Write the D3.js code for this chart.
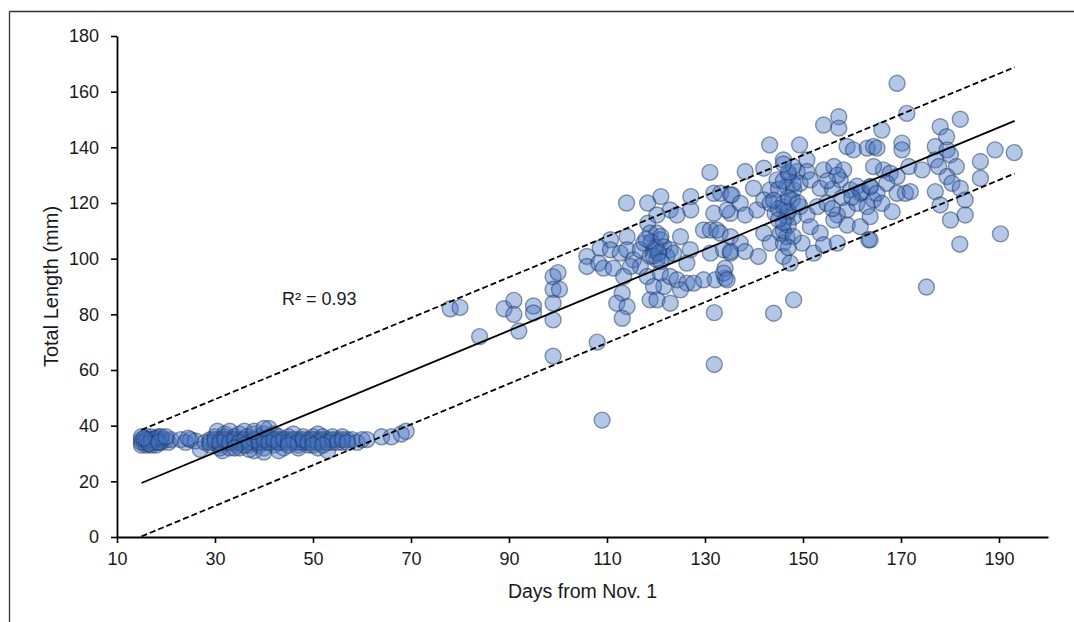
<!DOCTYPE html>
<html>
<head>
<meta charset="utf-8">
<script src="https://cdn.jsdelivr.net/npm/d3@7"></script>
<style>
  html, body { margin: 0; padding: 0; background: #fff; }
  svg { display: block; }
  text { font-family: "Liberation Sans", Arial, sans-serif; fill: #1a1a1a; }
</style>
</head>
<body>
<svg id="chart" width="1074" height="622"></svg>
<script>
// ---------- data ----------
const xTicks = [10, 30, 50, 70, 90, 110, 130, 150, 170, 190];
const yTicks = [0, 20, 40, 60, 80, 100, 120, 140, 160, 180];
const xLabel = "Days from Nov. 1";
const yLabel = "Total Length (mm)";
const r2Label = "R² = 0.93";

// early-winter fish [day, length]
const earlyFish = [
  [15,35],[15,33],[15.5,34],[16,36],[16,33],[16.5,35],[17,34],[17,36],[17.5,35],[18,33],
  [18,35],[18.5,36],[19,34],[19,35],[20,35],[20.5,34],[21,35],[16,34.5],[18,34],[15,36],
  [15,34],[16,35],[17,35],[17,33],[18,35.5],[19,36],[16.5,33.5],[18.5,34],[20,36],[15.5,35.5],
  [23,35],[24,34],[25,35],[26,34.5],[24.5,35.5],[27,31.5],
  [28,34],[29,35],[29,33],[30,36],[30,34],[30.5,38],[31,35],[31,33],[31.5,31],[32,37],
  [32,34],[32,36],[33,35],[33,32],[33,38],[34,34],[34,36],[34.5,33],[35,37],[35,35],
  [35,32],[36,38],[36,34],[36.5,36],[37,35],[37,33],[38,37],[38,34],[38,31],[39,36],
  [39,35],[39,33],[40,37],[40,34],[40,32],[41,39],[41,36],[41,35],[42,34],[42,37],
  [42,33],[43,36],[43,35],[44,34],[44,32],[45,36],[45,35],[46,34],[46,37],[47,35],
  [47,33],[48,36],[48,34],[49,35],[49,33],[50,36],[50,34],[51,35],[51,37],[51,32],
  [52,34],[52,36],[53,35],[53,31],[54,34],[54,36],[55,35],[56,36],[56,34],[57,35],
  [58,35],[59,34],[60,35],[61,35],[31,32],[37,31.5],[40,30.5],[43,31],[47,32],
  [29,34],[30,35],[31,34],[32,35],[33,34],[34,35],[35,34],[36,35],[37,34],[38,35],
  [39,34],[40,35],[41,34],[42,35],[43,34],[44,35],[45,34],[46,35],[47,34],[48,35],
  [49,34],[50,35],[51,34],[52,35],[53,34],[54,35],[55,34],[56,35],[57,34],[50,33],
  [52,33],[36,33],[34,32],[45,33],[38,38],[40,39],
  [64,36],[66,36],[68,37],[69,38]
];

// transition fish
const midFish = [
  [78,82],[80,82.5],[84,72],[89,82],[91,85],[91,80],[92,74],[95,83],[95,80.5],
  [99,93.5],[100,95],[99,89],[100.3,89],[99,84],[99,78],[99,65],[108,70],[109,42]
];

// spring cluster
const springFish = [
  [131,131],[114,120],[118.3,120],[121,122.3],[127.1,122.3],[122.9,117.5],[124.3,115.7],
  [127.1,117.5],[118.3,112.7],[120.2,115.7],[114.1,107.9],[110.7,106.8],[108.6,103.8],
  [105.9,100.8],[105.9,97.2],[108.3,98.4],[109.3,96.6],[111.3,96.6],[110.7,103.2],
  [112.7,102],[114.1,103.2],[115.4,99.6],[116.8,103.2],[117.5,105.6],[118.8,109.2],
  [120.2,109.2],[120.9,106.8],[121.6,104.3],[122.9,103.2],[119.5,103.2],[118.8,100.8],
  [120.2,99.6],[122.2,100.8],[123.6,102],[125,107.9],[127,103.2],[126.3,98.4],
  [116.8,97.2],[118.2,93.6],[120.9,94.8],[121.6,90],[122.9,93.6],[124.3,92.4],
  [126.3,91.2],[127.7,91.2],[125,88.8],[119.5,90],[118.8,85.2],[120.2,85.2],[122.9,84],
  [114.8,97.2],[113.4,93.6],[113.1,87.6],[112,84],[114.1,82.8],[113.1,78.6],
  [119,106],[120,104],[121,108],[119.5,101],[120.5,102],[118,107],[121,99],
  [129.7,110.3],[131.1,110.3],[132.4,110.3],[131.8,116.3],[135.2,116.3],[131.8,123.5],
  [133.2,123.5],[135.2,122.9],[131.1,102],[133.8,103.2],[135.2,102],[129.7,92.4],
  [132.1,92.4],[134.1,93],[134.1,96.6],[131.9,80.6],[131.9,62]
];

// late-spring cluster
const lateFish = [
  [154.2,148],[157.3,151],[157.3,146.9],[143.2,140.9],[149.3,140.9],[138.2,131.3],[142,132.5],
  [146,135.5],[150.8,135.5],[147.1,130.1],[148.8,131.3],[150.8,131.3],[154.2,131.9],
  [156.3,133.1],[158.3,131.9],[159,140.3],[160.3,139.1],[163.1,139.7],[164.4,140.3],
  [139.9,125.3],[143.3,124.7],[144.7,128.3],[146.7,125.9],[148.1,124.7],
  [149.4,127.1],[151.5,128.3],[153.5,125.3],[157.6,128.3],[159.7,124.7],[161.7,123.5],
  [163.8,125.9],[135.5,122.9],[134.5,117.5],[137.2,119.9],[138.2,115.7],[140.6,117.5],
  [142,121.1],[143.3,119.9],[144.3,116.3],[146,118.7],[146.7,115.1],[147.8,121.1],
  [149.4,118.7],[150.8,115.7],[152.9,118.7],[154.9,119.9],[157,115.7],[159,117.5],
  [161,119.9],[163.1,118.7],[164.4,121.1],[159,112.1],[161.7,111.5],[163.4,106.8],
  [133.1,109.2],[135.2,107.9],[137.2,105.6],[135.2,102.6],[138.2,102.6],[140.9,100.8],
  [142,109.2],[143.3,105.6],[145.4,109.2],[146,105.6],[146.7,107.9],[146,100.8],
  [147.4,98.4],[149.8,105.6],[151.5,111.5],[152.2,102],[153.5,109.2],[154.2,105],
  [157,105.6],[156.3,113.9],[133.8,94.8],[134.5,92.4],[144,80.4],[148.1,85.2],
  [146,120],[147,122],[145,118],[148,115],[147,112],[146,110],[148,127],[145,125],
  [147,117],[146,113],[148,108],[147,104],[145,114],[149,120],[144,121],[146,128],
  [147,131],[148,133],[146,134],[156,125],[157,130],[158,122],[156,118],[155,128],
  [161,126],[162,124],[160,122],
  [169.2,163],[171.2,152.2],[166.1,146.2],[182.1,150.1],[178,147.4],[179.3,143.8],
  [170.2,141.5],[170.2,139.1],[165.1,139.7],[177,140.3],[179.4,139.1],[180.1,137.3],
  [171.6,133.1],[174.3,131.9],[177,135.5],[177.7,133.1],[181.3,133.1],[186.2,134.9],
  [189.2,139.1],[193.1,138.1],[186.2,128.9],[166.4,131.9],[167.8,130.7],[169.2,129.5],
  [164.4,133.1],[163.7,125.9],[165.1,123.5],[167.1,127.1],[169.2,123.5],[170.9,123.5],
  [171.9,124.1],[166.1,119.9],[168.2,116.9],[163.7,115.1],[177,124.1],[178,119.3],
  [179.4,129.5],[180.4,127.1],[182.1,125.3],[183.1,121.1],[183.1,115.7],[180.1,113.9],
  [182,105.2],[190.3,108.9],[175.2,89.8],[163.7,106.8]
];

// regression line and prediction band (end points)
const fitDays  = [15, 193.2];
const fitLen   = [19.4, 149.5];
const upperLen = [38.5, 168.8];
const lowerLen = [0.2, 130.6];

// ---------- drawing ----------
const svg = d3.select("#chart");

// outer frame (left and top edges visible)
svg.append("line").attr("x1", 9.5).attr("y1", 11.5).attr("x2", 9.5).attr("y2", 622)
  .attr("stroke", "#333").attr("stroke-width", 1.3);
svg.append("line").attr("x1", 9.5).attr("y1", 11.5).attr("x2", 1074).attr("y2", 11.5)
  .attr("stroke", "#333").attr("stroke-width", 1.3);

const x = d3.scaleLinear().domain([10, 200]).range([117, 1048]);
const y = d3.scaleLinear().domain([0, 180]).range([537, 36]);

const allFish = [].concat(earlyFish, midFish, springFish, lateFish);

// points
svg.append("g").selectAll("circle").data(allFish).join("circle")
  .attr("cx", d => x(d[0]))
  .attr("cy", d => y(d[1]))
  .attr("r", 8)
  .attr("fill", "#4472C4").attr("fill-opacity", 0.4)
  .attr("stroke", "#1F3864").attr("stroke-opacity", 0.5).attr("stroke-width", 1.4);

// lines
const lineGen = d3.line().x(d => x(d[0])).y(d => y(d[1]));
const mk = arr => fitDays.map((dd, i) => [dd, arr[i]]);
svg.append("path").attr("d", lineGen(mk(fitLen)))
  .attr("fill", "none").attr("stroke", "#000").attr("stroke-width", 1.8);
svg.append("path").attr("d", lineGen(mk(upperLen)))
  .attr("fill", "none").attr("stroke", "#000").attr("stroke-width", 1.8).attr("stroke-dasharray", "6,3");
svg.append("path").attr("d", lineGen(mk(lowerLen)))
  .attr("fill", "none").attr("stroke", "#000").attr("stroke-width", 1.8).attr("stroke-dasharray", "6,3");

// axes
const xAxis = svg.append("g").attr("transform", `translate(0,${y(0)})`)
  .call(d3.axisBottom(x).tickValues(xTicks).tickSize(6).tickSizeOuter(0).tickPadding(9).tickFormat(d3.format("d")));
const yAxis = svg.append("g").attr("transform", `translate(${x(10)},0)`)
  .call(d3.axisLeft(y).tickValues(yTicks).tickSize(6).tickSizeOuter(0).tickPadding(12).tickFormat(d3.format("d")));
[xAxis, yAxis].forEach(a => {
  a.select(".domain").attr("stroke", "#000").attr("stroke-width", 1.8);
  a.selectAll(".tick line").attr("stroke", "#000").attr("stroke-width", 1.6);
  a.selectAll(".tick text").attr("font-size", 18).attr("fill", "#1a1a1a")
    .attr("font-family", '"Liberation Sans", Arial, sans-serif');
});

// titles
svg.append("text").attr("x", (x(10) + x(200)) / 2).attr("y", 598)
  .attr("text-anchor", "middle").attr("font-size", 19.5).text(xLabel);
svg.append("text").attr("transform", `translate(58,${(y(0) + y(180)) / 2}) rotate(-90)`)
  .attr("text-anchor", "middle").attr("font-size", 20).text(yLabel);

// R² annotation
svg.append("text").attr("x", 282).attr("y", 305).attr("font-size", 18).text(r2Label);
</script>
</body>
</html>
